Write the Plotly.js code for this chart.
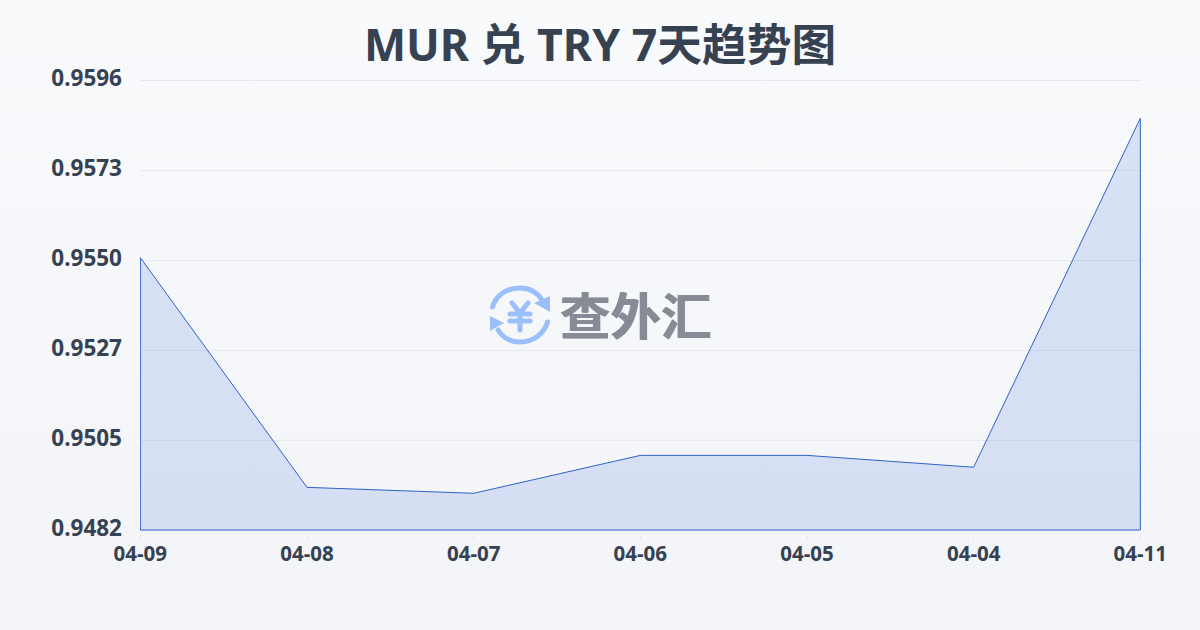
<!DOCTYPE html>
<html><head><meta charset="utf-8">
<script src="https://cdn.plot.ly/plotly-3.0.1.min.js"></script>
<style>html,body{margin:0;padding:0;width:1200px;height:630px;overflow:hidden;background:linear-gradient(180deg,#f8fafc 0%,#f2f4f7 100%)}#c{width:1200px;height:630px}</style>
</head><body><div id="c"></div>
<script>
const dates=["04-09","04-08","04-07","04-06","04-05","04-04","04-11"];
const rates=[0.9551,0.94928,0.94913,0.95009,0.95009,0.94979,0.95863];
const yTickValues=[0.9596,0.95732,0.95504,0.95276,0.95048,0.9482];
const yTickLabels=["0.9596","0.9573","0.9550","0.9527","0.9505","0.9482"];
const yMin=0.9482,yMax=0.9596;
const pad=0.000076;
const title="MUR 兑 TRY 7天趋势图";
const watermark="查外汇";
const font='"Noto Sans","Noto Sans CJK SC",sans-serif';
const wfont='"Noto Sans CJK SC","Noto Sans",sans-serif';
const icon=`<svg xmlns="http://www.w3.org/2000/svg" viewBox="0 0 60 60"><g fill="none" stroke="#9abffa" stroke-width="5" stroke-linecap="round"><path d="M2.5 22C6 10 17 3 30 3c9 0 17 4 22 12"/><path d="M57.5 37C54 49 43 57 30 57c-9 0-17-4-22-12"/></g><path d="M60 11v16L44 18z" fill="#9abffa"/><path d="M0 31v15L14 38z" fill="#9abffa"/><path d="M22 18l8 10 8-10M20 29h20M20 36h20M30 28v17" fill="none" stroke="#9abffa" stroke-width="5" stroke-linecap="round" stroke-linejoin="round"/></svg>`;
const data=[{
 type:"scatter",mode:"lines",
 x:dates.concat([dates[dates.length-1],dates[0],dates[0]]),
 y:rates.concat([yMin,yMin,rates[0]]),
 fill:"toself",fillcolor:"rgba(66,112,220,0.17)",
 line:{color:"#2f62c8",width:1},hoverinfo:"skip"
}];
const layout={
 width:1200,height:630,paper_bgcolor:"rgba(0,0,0,0)",plot_bgcolor:"rgba(0,0,0,0)",
 margin:{l:140,r:59,t:77,b:97},showlegend:false,
 font:{family:font,color:"#364152"},
 title:{text:"<b>"+title+"</b>",font:{family:font,size:44.7,color:"#364152"},x:0.5,xanchor:"center",y:0.928,yanchor:"middle"},
 xaxis:{type:"category",categoryorder:"array",categoryarray:dates,range:[-0.002,6.004],showgrid:false,zeroline:false,showline:false,
  ticks:"outside",ticklen:6,tickwidth:1,tickcolor:"#e8e8e4",ticklabelstandoff:-4,
  tickfont:{family:font,size:20.5,color:"#364152",weight:700}},
 yaxis:{range:[yMin-pad,yMax+pad],tickmode:"array",tickvals:yTickValues,ticktext:yTickLabels,showgrid:true,gridcolor:"#e6e8ec",gridwidth:1,zeroline:false,showline:false,ticks:"",
  ticklabelstandoff:17,ticklabelshift:-2,tickfont:{family:font,size:22.5,color:"#364152",weight:700}},
 annotations:[{xref:"paper",yref:"paper",x:(636-140)/1001,y:(533-313)/456,xanchor:"center",yanchor:"middle",showarrow:false,
  text:"<b>"+watermark+"</b>",font:{family:wfont,size:50.5,color:"#868b95",shadow:"0.6px 0 0 #868b95, -0.6px 0 0 #868b95"}}],
 images:[{source:"data:image/svg+xml;charset=utf-8,"+encodeURIComponent(icon),xref:"paper",yref:"paper",x:(490-140)/1001,y:(533-285)/456,sizex:60/1001,sizey:60/456,xanchor:"left",yanchor:"top",sizing:"stretch",layer:"above"}]
};
Plotly.newPlot("c",data,layout,{displayModeBar:false,staticPlot:true});
</script></body></html>
